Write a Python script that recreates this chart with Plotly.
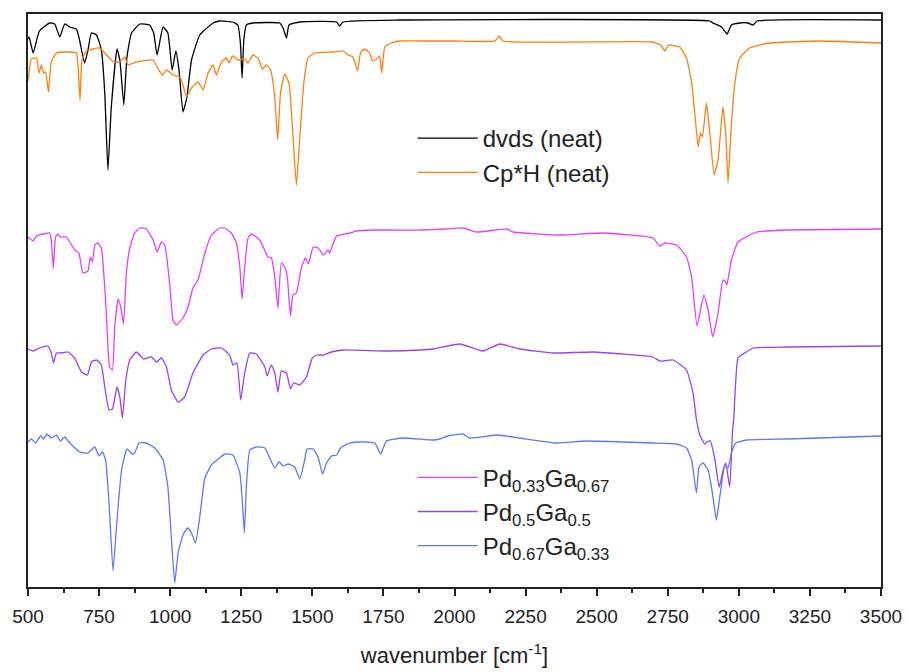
import plotly.graph_objects as go

# ---------------- data (wavenumber [cm-1], intensity [a.u., offset]) ----------------
dvds_x = [500, 504, 518, 540, 576, 594, 612, 629, 647, 658, 670, 679, 699, 711, 723, 741, 758, 770, 781,
          793, 813, 823, 837, 848, 864, 893, 928, 942, 954, 975, 992, 1007, 1020, 1031, 1045, 1059, 1075,
          1104, 1151, 1174, 1220, 1238, 1247, 1253, 1259, 1268, 1290, 1385, 1397, 1409, 1418, 1456, 1585,
          1596, 1608, 1807, 2898, 2909, 2939, 2959, 2974, 3003, 3032, 3050, 3064, 3500]
dvds_y = [548, 550, 534, 556, 564, 563, 550, 563, 560, 559, 558, 550, 524, 537, 554, 552, 537, 494, 417,
          480, 538, 527, 482, 530, 554, 563, 562, 554, 532, 560, 554, 517, 536, 517, 475, 490, 527,
          552, 564, 566, 565, 562, 544, 509, 547, 562, 564, 564, 559, 549, 562, 565, 565,
          561, 565, 567, 566, 564, 560, 553, 562, 564, 564, 562, 566, 567]

cph_x = [500, 512, 530, 539, 547, 555, 562, 572, 582, 600, 635, 670, 677, 683, 690, 705, 752, 770, 787, 801,
         823, 840, 852, 881, 940, 954, 973, 987, 1010, 1034, 1045, 1057, 1075, 1098, 1116, 1133, 1151,
         1163, 1180, 1198, 1207, 1219, 1239, 1262, 1274, 1291, 1309, 1324, 1339, 1353, 1364, 1371, 1378,
         1388, 1403, 1418, 1430, 1444, 1456, 1470, 1485, 1508, 1573, 1608, 1626, 1643, 1659, 1670, 1684,
         1702, 1711, 1726, 1737, 1744, 1755, 1778, 1807, 1878, 1994, 2142, 2157, 2170, 2697, 2725, 2740,
         2752, 2792, 2816, 2834, 2845, 2857, 2865, 2872, 2886, 2898, 2913, 2927, 2944, 2954, 2962, 2972,
         2986, 3003, 3038, 3108, 3284, 3500]
cph_y = [506, 528, 529, 514, 522, 514, 515, 495, 525, 534, 535, 534, 517, 487, 527, 536, 539, 534, 529, 525,
         525, 530, 522, 525, 527, 520, 512, 517, 512, 510, 502, 490, 499, 505, 497, 514, 522,
         512, 525, 529, 524, 531, 527, 528, 524, 532, 529, 518, 522, 517, 500, 477, 447,
         494, 513, 504, 460, 402, 450, 504, 529, 534, 535, 536, 532, 530, 516, 535, 538,
         534, 526, 528, 531, 514, 540, 544, 546, 546, 546, 546, 551, 546, 545, 542, 536,
         542, 540, 529, 504, 474, 440, 454, 450, 484, 454, 412, 427, 480, 454, 404, 454,
         504, 529, 539, 544, 546, 544]

pd33_x = [500, 518, 530, 553, 576, 582, 589, 597, 606, 612, 635, 664, 679, 693, 711, 719, 727, 735, 746, 758,
          773, 787, 797, 805, 817, 826, 836, 846, 858, 875, 893, 916, 940, 954, 969, 981, 998, 1010, 1022,
          1045, 1063, 1080, 1098, 1122, 1145, 1174, 1192, 1215, 1233, 1245, 1253, 1262, 1274, 1286, 1315,
          1344, 1356, 1368, 1379, 1391, 1403, 1412, 1423, 1432, 1444, 1462, 1476, 1486, 1503, 1520, 1540,
          1555, 1561, 1585, 1632, 1655, 1714, 1761, 1878, 1972, 2030, 2077, 2183, 2206, 2370, 2523, 2698,
          2722, 2740, 2781, 2816, 2834, 2853, 2877, 2892, 2908, 2927, 2944, 2954, 2958, 2974, 2997, 3062,
          3168, 3500]
pd33_y = [350, 346, 351, 353, 354, 347, 319, 350, 353, 350, 350, 337, 334, 314, 316, 330, 325, 342, 344, 339,
          287, 220, 217, 260, 288, 280, 263, 314, 339, 354, 359, 358, 347, 335, 345, 342, 304, 267, 262,
          269, 280, 299, 307, 334, 352, 359, 359, 354, 344, 320, 288, 320, 349, 353, 347,
          330, 329, 310, 279, 324, 320, 310, 271, 292, 294, 320, 329, 323, 340, 339, 332,
          337, 334, 351, 354, 356, 357, 357, 357, 358, 359, 355, 358, 355, 352, 354, 349,
          341, 344, 342, 330, 310, 261, 292, 277, 250, 274, 307, 305, 302, 327, 345, 355,
          357, 358]

pd50_x = [500, 518, 541, 570, 582, 590, 600, 617, 641, 664, 688, 709, 723, 741, 758, 770, 785, 797, 813, 823,
          832, 844, 858, 881, 899, 907, 934, 952, 969, 987, 1004, 1028, 1051, 1080, 1116, 1145, 1180, 1209,
          1221, 1235, 1248, 1262, 1280, 1303, 1333, 1341, 1356, 1368, 1379, 1391, 1409, 1423, 1434, 1456,
          1479, 1500, 1515, 1538, 1567, 1608, 1761, 1878, 1925, 2019, 2100, 2159, 2229, 2347, 2488, 2698,
          2722, 2769, 2816, 2839, 2851, 2863, 2880, 2888, 2900, 2916, 2931, 2945, 2954, 2968, 2978, 2982,
          2997, 3021, 3050, 3168, 3500]
pd50_y = [238, 236, 239, 241, 234, 224, 234, 234, 235, 229, 215, 212, 225, 227, 222, 200, 177, 178, 200, 190,
          169, 207, 227, 235, 230, 228, 230, 225, 229, 220, 197, 185, 190, 214, 232, 238, 239, 232,
          222, 224, 187, 214, 234, 233, 220, 211, 222, 214, 195, 216, 214, 198, 204, 202,
          210, 229, 232, 232, 235, 237, 236, 237, 238, 243, 236, 243, 238, 234, 235, 230,
          226, 227, 217, 194, 167, 152, 143, 145, 146, 127, 100, 117, 124, 100, 157, 167,
          229, 234, 239, 240, 241]

pd67_x = [500, 512, 527, 544, 555, 567, 582, 600, 614, 629, 647, 682, 711, 735, 750, 762, 773, 785, 799, 813,
          829, 848, 866, 875, 890, 916, 946, 975, 992, 1004, 1016, 1028, 1045, 1061, 1075, 1089, 1104, 1122,
          1145, 1174, 1192, 1221, 1245, 1254, 1261, 1268, 1280, 1303, 1333, 1350, 1368, 1383, 1397, 1415,
          1438, 1456, 1473, 1481, 1503, 1520, 1536, 1550, 1567, 1585, 1602, 1632, 1661, 1690, 1720, 1740,
          1761, 1819, 1925, 1948, 1977, 2030, 2054, 2153, 2229, 2359, 2464, 2698, 2781, 2816, 2834, 2851,
          2860, 2874, 2892, 2907, 2921, 2933, 2951, 2962, 2974, 2989, 3027, 3168, 3500]
pd67_y = [145, 148, 144, 151, 148, 153, 149, 152, 146, 150, 144, 135, 134, 140, 131, 135, 127, 84, 16, 67,
          117, 138, 133, 134, 144, 144, 139, 127, 100, 50, 4, 34, 52, 59, 54, 44, 70, 109,
          122, 129, 133, 132, 114, 84, 54, 100, 137, 140, 139, 129, 119, 125, 121, 123,
          120, 108, 127, 138, 138, 130, 113, 124, 131, 132, 140, 144, 145, 145, 144, 133,
          146, 149, 147, 148, 151, 153, 149, 152, 149, 144, 146, 144, 143, 139, 127, 94,
          120, 124, 117, 94, 67, 90, 122, 119, 134, 144, 147, 148, 151]

series = [
    ("dvds (neat)", dvds_x, dvds_y, "#000000", "legend"),
    ("Cp*H (neat)", cph_x, cph_y, "#ff7f0e", "legend"),
    ("Pd<sub>0.33</sub>Ga<sub>0.67</sub>", pd33_x, pd33_y, "#e040fb", "legend2"),
    ("Pd<sub>0.5</sub>Ga<sub>0.5</sub>", pd50_x, pd50_y, "#9b40f5", "legend2"),
    ("Pd<sub>0.67</sub>Ga<sub>0.33</sub>", pd67_x, pd67_y, "#5b78fa", "legend2"),
]

fig = go.Figure()
for name, xs, ys, color, lg in series:
    fig.add_trace(go.Scatter(x=xs, y=ys, mode="lines", name=name, legend=lg,
                             line=dict(color=color, width=1.3, shape="spline", smoothing=0.4)))

font_family = "Arial, Liberation Sans, sans-serif"
legend_common = dict(font=dict(family=font_family, size=24, color="#222"),
                     bgcolor="rgba(0,0,0,0)", borderwidth=0, tracegroupgap=0,
                     xanchor="left", yanchor="top", itemwidth=60)

fig.update_layout(
    width=908, height=672,
    margin=dict(l=28, r=27, t=14, b=85, autoexpand=False),
    paper_bgcolor="white", plot_bgcolor="white",
    font=dict(family=font_family, color="#222"),
    legend=dict(x=0.451, y=0.822, **legend_common),
    legend2=dict(x=0.451, y=0.23, **legend_common),
    xaxis=dict(range=[500, 3500], tick0=500, dtick=250, ticks="outside", ticklen=7, tickwidth=1.5,
               tickcolor="#222", showline=True, linecolor="#222", linewidth=2, mirror=True,
               showgrid=False, zeroline=False, tickfont=dict(size=19, color="#222"), automargin=False,
               ticklabelstandoff=4,
               minor=dict(ticks="outside", ticklen=4, tickwidth=1.5, tickcolor="#222", dtick=125, tick0=500),
               title=dict(text="wavenumber [cm<sup>-1</sup>]", font=dict(size=22, color="#222"), standoff=22)),
    yaxis=dict(range=[0, 573], showticklabels=False, ticks="", showline=True, linecolor="#222",
               linewidth=2, mirror=True, showgrid=False, zeroline=False, automargin=False),
)

fig.write_html("out.html")
